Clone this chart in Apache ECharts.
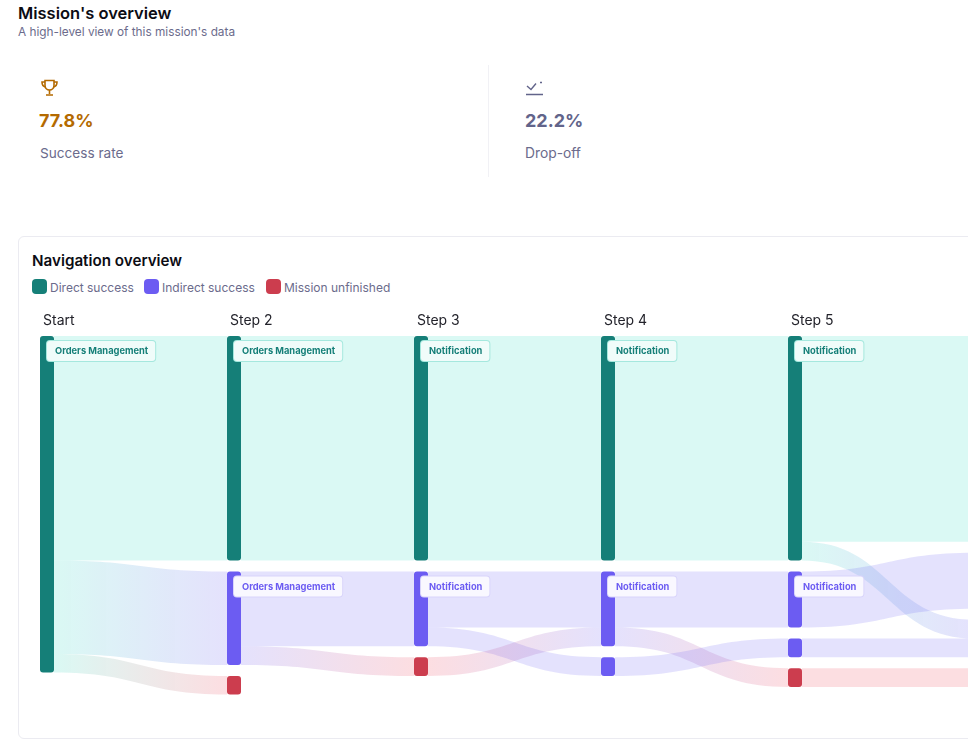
<!DOCTYPE html>
<html><head><meta charset="utf-8">
<script src="https://cdn.jsdelivr.net/npm/echarts@6/dist/echarts.min.js"></script>
<style>
html,body{margin:0;padding:0;width:968px;height:740px;overflow:hidden;background:#fff;font-family:Inter,Roboto,sans-serif}
.abs{position:absolute;white-space:nowrap}
#chart{position:absolute;left:0;top:0;width:1010px;height:740px}
.card{position:absolute;left:18px;top:236px;width:1000px;height:503px;border:1px solid #ebebf1;border-radius:6px;box-sizing:border-box}
.sw{position:absolute;top:279px;width:15px;height:15px;border-radius:4px}
</style></head><body>
<div class="abs" style="left:18px;top:3px;font-size:16.5px;font-weight:600;color:#0c0c14">Mission's overview</div>
<div class="abs" style="left:18px;top:25px;font-size:11.8px;color:#6b6b8c">A high-level view of this mission's data</div>
<svg class="abs" style="left:40px;top:79px" width="20" height="18" viewBox="0 0 20 18" fill="none" stroke="#b46a00" stroke-width="1.6"><path d="M5 1.5h9v5a4.500 4.500 0 0 1-9 0z"/><path d="M5 3H2c0 3 1 4.500 3.500 5M14 3h3c0 3-1 4.500-3.500 5M9.500 11v4M6 16h7"/></svg>
<div class="abs" style="left:39px;top:110px;font-size:18px;font-weight:700;color:#b46a00">77.8%</div>
<div class="abs" style="left:40px;top:145px;font-size:13.6px;color:#6b6b8c">Success rate</div>
<div class="abs" style="left:488px;top:65px;width:1px;height:112px;background:#f1f1f5"></div>
<svg class="abs" style="left:525px;top:79px" width="20" height="17" viewBox="0 0 20 17" fill="none" stroke="#62648a" stroke-width="1.4"><path d="M1 15.500h17M2 7l4 3.500 5-6M15 3.500h2"/></svg>
<div class="abs" style="left:525px;top:110px;font-size:18px;font-weight:700;color:#62648a">22.2%</div>
<div class="abs" style="left:525px;top:145px;font-size:13.8px;color:#6b6b8c">Drop-off</div>
<div class="card"></div>
<div class="abs" style="left:32px;top:251px;font-size:15.2px;font-weight:600;color:#0c0c14">Navigation overview</div>
<div class="sw" style="left:32px;background:#157f78"></div><div class="abs" style="left:50px;top:280px;font-size:12px;color:#6b6b8c">Direct success</div>
<div class="sw" style="left:144px;background:#6c5cf2"></div><div class="abs" style="left:162px;top:280px;font-size:12px;color:#6b6b8c">Indirect success</div>
<div class="sw" style="left:266px;background:#cc3d4e"></div><div class="abs" style="left:284px;top:280px;font-size:12px;color:#6b6b8c">Mission unfinished</div>
<div id="chart"></div>
<script>
const stepLabels = ['Start', 'Step 2', 'Step 3', 'Step 4', 'Step 5'];
const nodeNames = ['1 direct','2 direct','2 indirect','2 unfinished','3 direct','3 indirect','3 unfinished','4 direct','4 indirect','4 indirect b','5 direct','5 indirect','5 indirect b','5 unfinished','6 direct','6 indirect','6 indirect b','6 unfinished'];
const nodePages = ['Orders Management','Orders Management','Orders Management','','Notification','Notification','','Notification','Notification','','Notification','Notification','','','','','',''];
const linkSources = ['1 direct','1 direct','1 direct','2 direct','2 indirect','2 indirect','3 direct','3 indirect','3 indirect','3 unfinished','4 direct','4 indirect','4 indirect','4 indirect b','5 direct','5 direct','5 indirect','5 indirect b','5 unfinished'];
const linkTargets = ['2 direct','2 indirect','2 unfinished','3 direct','3 indirect','3 unfinished','4 direct','4 indirect','4 indirect b','4 indirect','5 direct','5 indirect','5 unfinished','5 indirect b','6 direct','6 indirect b','6 indirect','6 indirect b','6 unfinished'];
const linkValues = [12,5,1,12,4,1,12,3,1,1,12,3,1,1,11,1,3,1,1];

const kinds = {
  direct:{node:'#157f78',link:'rgba(69,224,199,0.2)',text:'#157f78',bg:'#f0fcfa',border:'#a5e8de'},
  indirect:{node:'#6c5cf2',link:'rgba(108,92,242,0.18)',text:'#6c5cf2',bg:'#f9f8ff',border:'#d9d5fb'},
  unfinished:{node:'#cc3d4e',link:'rgba(240,70,90,0.18)',text:'#cc3d4e',bg:'#fff',border:'#fff'}
};
const kindOf = n => n.split(' ')[1];
const nodes = nodeNames.map((name,i)=>{
  const k = kinds[kindOf(name)];
  return {
    name,
    itemStyle:{color:k.node,borderWidth:0,borderRadius:3,opacity:1},
    label: nodePages[i] ? {show:true,formatter:nodePages[i],position:[7,5],color:k.text,backgroundColor:k.bg,borderColor:k.border,borderWidth:1,borderRadius:3,padding:[6,7,5,8],fontSize:9.3,fontWeight:700,fontFamily:'Inter'} : {show:false}
  };
});
const links = linkValues.map((value,i)=>{
  const a = kinds[kindOf(linkSources[i])].link, b = kinds[kindOf(linkTargets[i])].link;
  return {source:linkSources[i],target:linkTargets[i],value,
    lineStyle:{opacity:1,color: a===b ? a : {type:'linear',x:0,y:0,x2:1,y2:0,colorStops:[{offset:0,color:a},{offset:1,color:b}]}}};
});
const chart = echarts.init(document.getElementById('chart'),null,{renderer:'canvas'});
chart.setOption({
  animation:false,
  tooltip:{show:false},
  graphic:stepLabels.map((text,i)=>({type:'text',x:43+187*i,y:314,style:{text,fontSize:14,fontFamily:'Inter',fill:'#23232b'}})),
  series:[{
    type:'sankey',left:40,top:336,width:949,height:358.6,
    nodeWidth:14,nodeGap:11,nodeAlign:'left',layoutIterations:0,
    emphasis:{disabled:true},draggable:false,
    data:nodes,links,
    lineStyle:{curveness:0.5}
  }]
});
</script>
</body></html>
